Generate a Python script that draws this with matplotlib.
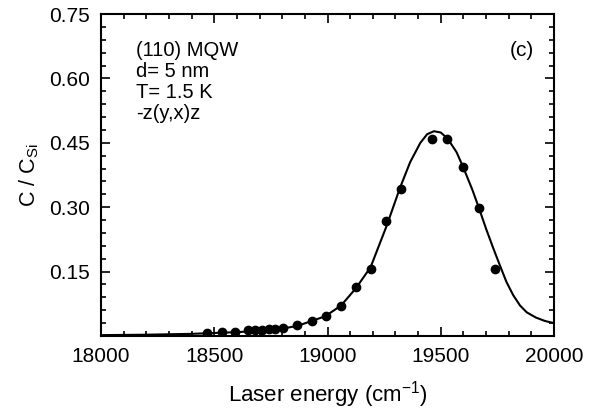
import matplotlib
matplotlib.use("Agg")
import matplotlib.pyplot as plt
from matplotlib.ticker import MultipleLocator

plt.rcParams['font.family'] = ['Liberation Sans', 'DejaVu Sans']
plt.rcParams['mathtext.fontset'] = 'custom'
plt.rcParams['mathtext.rm'] = 'Liberation Sans'
plt.rcParams['mathtext.it'] = 'Liberation Sans'
plt.rcParams['axes.unicode_minus'] = False

# measured points
data_x = [18467, 18533, 18592, 18650, 18680, 18710, 18740, 18770, 18805, 18865,
          18930, 18993, 19058, 19125, 19192, 19257, 19323, 19460, 19529, 19598,
          19669, 19740]
data_y = [0.008, 0.009, 0.010, 0.013, 0.014, 0.015, 0.016, 0.016, 0.019, 0.026,
          0.035, 0.047, 0.071, 0.113, 0.156, 0.269, 0.343, 0.460, 0.460, 0.393,
          0.297, 0.156]

# fitted curve
fit_x = [18000, 18200, 18400, 18500, 18600, 18700, 18800, 18870, 18930, 18990,
         19060, 19125, 19190, 19260, 19320, 19365, 19410, 19440, 19470, 19500,
         19530, 19570, 19600, 19640, 19670, 19700, 19730, 19760, 19790, 19820,
         19850, 19880, 19920, 19960, 20000]
fit_y = [0.002, 0.003, 0.005, 0.007, 0.009, 0.012, 0.017, 0.024, 0.035, 0.046,
         0.071, 0.111, 0.160, 0.255, 0.345, 0.405, 0.450, 0.470, 0.477, 0.474,
         0.460, 0.428, 0.392, 0.340, 0.296, 0.250, 0.207, 0.166, 0.126, 0.095,
         0.071, 0.055, 0.043, 0.035, 0.030]

x_ticks = [18000, 18500, 19000, 19500, 20000]
y_ticks = [0.15, 0.30, 0.45, 0.60, 0.75]
y_ticklabels = ['0.15', '0.30', '0.45', '0.60', '0.75']

fig = plt.figure(figsize=(5.98, 4.15), dpi=100)
ax = fig.add_axes([101/598, 1-336/415, (554-101)/598, (336-14)/415])

ax.plot(fit_x, fit_y, color='black', lw=1.5, zorder=2)
ax.plot(data_x, data_y, 'o', color='black', ms=6, zorder=3)

ax.set_xlim(18000, 20000)
ax.set_ylim(0, 0.75)
ax.set_xticks(x_ticks)
ax.set_xticklabels([str(v) for v in x_ticks])
ax.set_yticks(y_ticks)
ax.set_yticklabels(y_ticklabels)
ax.xaxis.set_minor_locator(MultipleLocator(100))
ax.yaxis.set_minor_locator(MultipleLocator(0.03))
ax.tick_params(which='both', direction='in', top=True, right=True, width=1.2, labelsize=15)
ax.tick_params(which='major', length=6.5)
ax.tick_params(which='minor', length=3.5)
ax.tick_params(axis='x', pad=8)
ax.tick_params(axis='y', pad=8)
for s in ax.spines.values():
    s.set_linewidth(1.5)

ax.set_xlabel('Laser energy (cm$^{-1}$)', fontsize=16, labelpad=9)
ax.set_ylabel('C / C$_{\\mathrm{Si}}$', fontsize=15.5, labelpad=6)

ax.text(0.077, 0.915, '(110) MQW\nd= 5 nm\nT= 1.5 K\n-z(y,x)z', transform=ax.transAxes,
        fontsize=14.5, va='top', ha='left', linespacing=1.12)
ax.text(0.955, 0.915, '(c)', transform=ax.transAxes, fontsize=15, va='top', ha='right')

fig.savefig('out.png', dpi=100)
